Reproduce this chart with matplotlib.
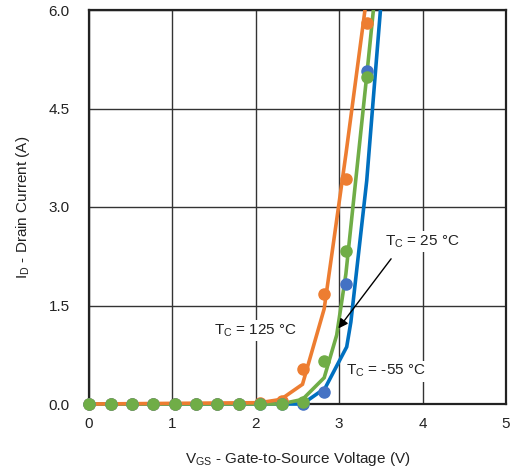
import matplotlib
matplotlib.use("Agg")
import matplotlib.pyplot as plt
from matplotlib.patches import Rectangle

plt.rcParams['font.family'] = ['Liberation Sans', 'DejaVu Sans']
plt.rcParams['mathtext.default'] = 'regular'

# Measured curves (lines)
x_125 = [0, 2.05, 2.30, 2.56, 2.82, 3.08, 3.33]
y_125 = [0, 0.02, 0.07, 0.30, 1.45, 3.80, 6.20]
x_25 = [0, 2.30, 2.56, 2.82, 2.97, 3.08, 3.33, 3.45]
y_25 = [0, 0.00, 0.07, 0.40, 1.05, 1.98, 5.00, 6.50]
x_m55 = [0, 2.56, 2.83, 3.09, 3.14, 3.33, 3.45, 3.52]
y_m55 = [0, 0.00, 0.24, 0.87, 1.25, 3.40, 5.30, 6.40]

# Simulated points (markers)
vgs_pts = [0, 0.26, 0.51, 0.77, 1.03, 1.28, 1.54, 1.80, 2.05, 2.31, 2.56, 2.82, 3.08, 3.33]
pts_125 = [0, 0, 0, 0, 0, 0, 0, 0, 0.01, 0.05, 0.53, 1.68, 3.43, 5.80]
pts_25 = [0, 0, 0, 0, 0, 0, 0, 0, 0, 0, 0.03, 0.65, 2.33, 4.98]
pts_m55 = [0, 0, 0, 0, 0, 0, 0, 0, 0, 0, 0.00, 0.18, 1.82, 5.07]

x_ticks = [0, 1, 2, 3, 4, 5]
y_ticks = [0.0, 1.5, 3.0, 4.5, 6.0]

c_orange = '#ED7D31'
c_green = '#70AD47'
c_blue_line = '#0070C0'
c_blue_mk = '#4472C4'
txt = '#222222'
fs = 11

fig = plt.figure(figsize=(5.11, 4.75), dpi=100)
ax = fig.add_axes([89/511, 71/475, 417/511, 394/475])
ax.set_xlim(0, 5)
ax.set_ylim(0, 6)

clip = Rectangle((0, -0.05), 1, 1.05, transform=ax.transAxes, visible=False)
ax.add_patch(clip)

for xs, ys, c in [(x_m55, y_m55, c_blue_line), (x_25, y_25, c_green), (x_125, y_125, c_orange)]:
    ln, = ax.plot(xs, ys, color=c, lw=2.6, zorder=4, solid_joinstyle='miter')
    ln.set_clip_path(clip)

for ys, c in [(pts_125, c_orange), (pts_m55, c_blue_mk), (pts_25, c_green)]:
    ax.plot(vgs_pts, ys, ls='none', marker='o', ms=8, color=c, mec=c, zorder=5, clip_on=False)

ax.set_xticks(x_ticks)
ax.set_yticks(y_ticks)
ax.set_xticklabels([str(v) for v in x_ticks])
ax.set_yticklabels([f'{v:.1f}' for v in y_ticks])
ax.tick_params(axis='both', length=0, labelsize=fs, colors=txt)
ax.tick_params(axis='y', pad=14)
ax.tick_params(axis='x', pad=9)
ax.grid(True, color='#333333', lw=1.0)
ax.set_axisbelow(True)
for s in ax.spines.values():
    s.set_linewidth(1.6)
    s.set_color('#222222')

ax.set_xlabel('V$_{GS}$ - Gate-to-Source Voltage (V)', fontsize=fs, color=txt, labelpad=14)
ax.set_ylabel('I$_{D}$ - Drain Current (A)', fontsize=fs, color=txt, labelpad=12)

bbox = dict(facecolor='white', edgecolor='none', pad=1.5)
ax.text(1.50, 1.12, 'T$_{C}$ = 125 °C', fontsize=fs, color=txt, va='center', ha='left', bbox=bbox, zorder=6)
ax.text(3.08, 0.50, 'T$_{C}$ = -55 °C', fontsize=fs, color=txt, va='center', ha='left', bbox=bbox, zorder=6)
ax.annotate('T$_{C}$ = 25 °C', xy=(2.99, 1.15), xytext=(3.55, 2.47),
            fontsize=fs, color=txt, va='center', ha='left', bbox=bbox, zorder=6,
            arrowprops=dict(arrowstyle='-|>', color='black', lw=1.0, mutation_scale=14,
                            shrinkA=6, shrinkB=0, relpos=(0.17, 0.0)))

fig.savefig('out.png', dpi=100)
